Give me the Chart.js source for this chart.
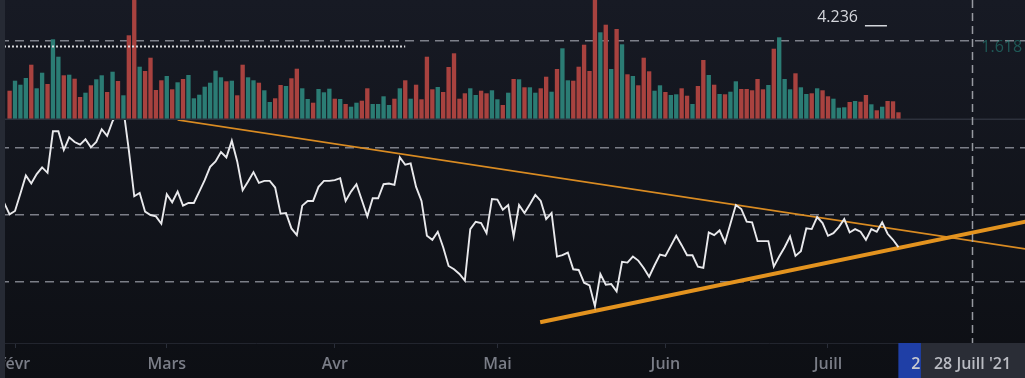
<!DOCTYPE html>
<html>
<head>
<meta charset="utf-8">
<script src="https://cdn.jsdelivr.net/npm/chart.js@4/dist/chart.umd.min.js"></script>
<style>
  html, body { margin: 0; padding: 0; background: #131722; overflow: hidden; }
  #chart { display: block; }
</style>
</head>
<body>
<canvas id="chart" width="1025" height="378"></canvas>
<script>
// days counted from 1 Feb 2021 (day 0)
const firstCloseDay = -2;
const closes = [
  41.8, 40.1, 40.6, 43.2, 45.9, 44.7, 46.1, 47.1, 46.3, 52.5,
  52.5, 49.7, 51.6, 50.9, 50.5, 51.3, 50.1, 50.9, 52.8, 51.8,
  54.0, 55.4, 55.8, 49.7, 42.8, 43.3, 40.5, 40.0, 39.8, 38.7,
  43.1, 41.9, 43.5, 41.4, 41.8, 41.8, 43.5, 45.2, 47.2, 48.0,
  49.4, 48.6, 51.1, 48.0, 43.7, 45.0, 46.4, 44.8, 45.1, 45.1,
  44.1, 40.2, 40.3, 38.0, 37.0, 41.4, 42.1, 42.1, 44.2, 45.1,
  45.1, 45.2, 45.5, 42.1, 43.5, 44.6, 42.2, 39.8, 42.5, 42.5,
  44.6, 44.7, 44.5, 48.6, 47.5, 47.7, 44.2, 42.1, 36.9, 36.3,
  37.5, 35.2, 32.4, 31.9, 31.2, 30.2, 37.9, 39.0, 38.8, 37.3,
  42.4, 42.3, 40.8, 41.5, 36.8, 41.5, 40.3, 41.6, 43.0, 42.1,
  39.4, 40.3, 33.8, 34.0, 34.4, 31.9, 31.8, 29.9, 29.5, 26.4,
  31.2, 29.6, 29.7, 28.6, 33.0, 32.9, 33.8, 33.2, 32.1, 30.8,
  32.5, 34.1, 33.9, 35.4, 36.9, 35.5, 34.0, 34.0, 32.3, 32.1,
  37.4, 37.0, 37.7, 35.9, 38.7, 41.5, 40.9, 39.0, 38.9, 36.1,
  36.1, 36.1, 32.3, 33.8, 35.2, 36.8, 33.9, 34.6, 38.0, 37.9,
  39.7, 38.8, 36.9, 37.3, 38.2, 39.4, 37.4, 37.9, 37.5, 36.3,
  37.9, 37.5, 38.9, 37.2, 36.3, 35.2
];

const firstVolumeDay = -1;
const volumes = [
  293, 393, 353, 420, 553, 317, 473, 360, 807, 633,
  447, 453, 413, 230, 273, 347, 407, 447, 280, 483,
  390, 247, 847, 1350, 533, 490, 623, 300, 397, 440,
  307, 377, 410, 450, 217, 253, 333, 373, 493, 427,
  387, 393, 247, 553, 427, 397, 373, 297, 180, 217,
  350, 340, 417, 513, 317, 210, 173, 310, 277, 313,
  213, 210, 160, 133, 173, 193, 317, 160, 160, 237,
  150, 213, 317, 397, 213, 353, 207, 633, 307, 330,
  280, 530, 667, 213, 267, 317, 250, 293, 267, 297,
  207, 150, 273, 410, 407, 327, 327, 273, 317, 433,
  283, 510, 717, 397, 393, 533, 753, 490, 1300, 877,
  953, 510, 910, 757, 457, 440, 347, 623, 487, 293,
  347, 280, 250, 257, 317, 243, 160, 340, 600, 450,
  353, 260, 257, 283, 387, 310, 310, 297, 410, 307,
  350, 713, 827, 410, 307, 467, 327, 260, 267, 317,
  297, 237, 213, 123, 127, 180, 190, 183, 250, 157,
  97, 133, 190, 187, 77
];
// u = up day (teal), d = down day (red)
const volumeDirs =
  "duuuduuduu" + "dudduduudu" + "dudduddddu" + "duduuuuuuu" + "dudduuduud" +
  "dudduuduuu" + "duduudduuu" + "udududdddu" + "ddddduuddu" + "udududuudd" +
  "uduudddddu" + "dudududddu" + "uduudduddu" + "duduuddddd" + "uduuuduudu" +
  "dduuududdu" + "duddd";

const monthDays = [0, 28, 59, 89, 120, 150];
const monthLabels = ["févr", "Mars", "Avr", "Mai", "Juin", "Juill"];

const resistanceDays = [30, 190];
const resistanceValues = [54.2, 34.5];
const supportDays = [96.9, 190];
const supportValues = [24.0, 39.6];

const priceGridValues = [30, 40, 50];
const volumeGridValues = [790];

const cursorDay = 176.6;
const cursorLabel = "28 Juill '21";
const hiddenLabelDay = 172.5;
const hiddenLabel = "23 Juill '21";
const fibLevelVolume = 745;
const fibLevelDays = [-2.77, 72];
const fibTop = { text: "4.236", day: 148, volume: 1030 };
const fibRight = { text: "1.618", day: 178.3, volume: 725 };

const gridColor = "rgba(170,173,182,0.7)";
const upColor = "#2b7c74";
const downColor = "#a8423f";

const pricePoints = closes.map((v, i) => ({ x: firstCloseDay + i, y: v }));
const volumePoints = volumes.map((v, i) => ({ x: firstVolumeDay + i, y: v }));
const volumeColors = volumes.map((v, i) => volumeDirs[i] === "u" ? upColor : downColor);
const toPoints = (days, values) => days.map((d, i) => ({ x: d, y: values[i] }));

const labelFont = "600 16px 'Open Sans'";

const overlay = {
  id: "overlay",
  beforeDraw(chart) {
    const { ctx, width, height } = chart;
    const g = ctx.createLinearGradient(0, 0, 0, height);
    g.addColorStop(0, "#171a24");
    g.addColorStop(1, "#0d0f14");
    ctx.save();
    ctx.fillStyle = g;
    ctx.fillRect(0, 0, width, height);
    ctx.restore();
  },
  afterDraw(chart) {
    const { ctx, width, height } = chart;
    const x = chart.scales.x;
    const yv = chart.scales.yVol;
    ctx.save();

    // pane separator
    ctx.fillStyle = "#2d313c";
    ctx.fillRect(0, yv.bottom - 1.5, width, 1.5);

    // dotted fib level
    const fy = Math.round(yv.getPixelForValue(fibLevelVolume)) + 0.5;
    ctx.strokeStyle = "rgba(235,236,240,0.9)";
    ctx.lineWidth = 2;
    ctx.setLineDash([2, 2]);
    ctx.beginPath();
    ctx.moveTo(x.getPixelForValue(fibLevelDays[0]), fy);
    ctx.lineTo(x.getPixelForValue(fibLevelDays[1]), fy);
    ctx.stroke();
    ctx.setLineDash([]);

    // fib labels
    ctx.font = "16px 'Open Sans'";
    ctx.textBaseline = "middle";
    ctx.textAlign = "left";
    ctx.fillStyle = "#d4d6dc";
    const tx = x.getPixelForValue(fibTop.day);
    const ty = yv.getPixelForValue(fibTop.volume);
    ctx.fillText(fibTop.text, tx, ty);
    const tw = ctx.measureText(fibTop.text).width;
    ctx.fillRect(tx + tw + 7, ty + 8, 22, 1.5);
    ctx.fillStyle = "rgba(38,140,130,0.55)";
    ctx.fillText(fibRight.text, x.getPixelForValue(fibRight.day), yv.getPixelForValue(fibRight.volume));

    // crosshair
    const cx = Math.round(x.getPixelForValue(cursorDay)) + 0.5;
    ctx.strokeStyle = "rgba(175,177,185,0.85)";
    ctx.lineWidth = 1.5;
    ctx.setLineDash([8, 5]);
    ctx.beginPath();
    ctx.moveTo(cx, 0);
    ctx.lineTo(cx, x.top + 8);
    ctx.stroke();
    ctx.setLineDash([]);

    // date labels on the time axis
    ctx.font = labelFont;
    ctx.textAlign = "center";
    const hx = x.getPixelForValue(hiddenLabelDay);
    const hw = ctx.measureText(hiddenLabel).width + 26;
    ctx.fillStyle = "#1f3fa6";
    ctx.fillRect(hx - hw / 2, x.top, hw, height - x.top);
    ctx.fillStyle = "#c8cad0";
    ctx.fillText(hiddenLabel, hx, x.top + 21);

    const cw = ctx.measureText(cursorLabel).width + 26;
    ctx.fillStyle = "#2a2d36";
    ctx.fillRect(cx - cw / 2, x.top, cw + 20, height - x.top);
    ctx.fillStyle = "#b9bbc2";
    ctx.fillText(cursorLabel, cx, x.top + 21);

    // left edge strip
    ctx.fillStyle = "#262a34";
    ctx.fillRect(0, 0, 5, height);
    ctx.restore();
  }
};

new Chart(document.getElementById("chart").getContext("2d"), {
  type: "line",
  data: {
    datasets: [
      {
        type: "line",
        data: pricePoints,
        yAxisID: "yPrice",
        borderColor: "#e9e9ec",
        borderWidth: 1.9,
        pointRadius: 0,
        tension: 0
      },
      {
        type: "line",
        data: toPoints(supportDays, supportValues),
        yAxisID: "yPrice",
        borderColor: "#e3931f",
        borderWidth: 4,
        pointRadius: 0
      },
      {
        type: "line",
        data: toPoints(resistanceDays, resistanceValues),
        yAxisID: "yPrice",
        borderColor: "#d98b22",
        borderWidth: 1.6,
        pointRadius: 0
      },
      {
        type: "bar",
        data: volumePoints,
        yAxisID: "yVol",
        backgroundColor: volumeColors,
        barPercentage: 0.8,
        categoryPercentage: 1
      }
    ]
  },
  options: {
    responsive: false,
    devicePixelRatio: 1,
    animation: false,
    events: [],
    layout: { padding: 0 },
    plugins: { legend: { display: false }, tooltip: { enabled: false } },
    scales: {
      x: {
        type: "linear",
        min: -2.77,
        max: 186.35,
        offset: false,
        afterBuildTicks: (s) => { s.ticks = monthDays.map((v) => ({ value: v })); },
        afterFit: (s) => { s.height = 35; s.paddingLeft = 0; s.paddingRight = 0; },
        ticks: {
          autoSkip: false,
          maxRotation: 0,
          padding: 7,
          color: "#7a7d87",
          font: { family: "Open Sans", size: 16, weight: "600" },
          callback: (v, i) => monthLabels[i]
        },
        grid: { offset: false, drawOnChartArea: false, drawTicks: true, tickLength: 5, color: "#2a2e39" },
        border: { color: "#22252e" }
      },
      yVol: {
        type: "linear",
        position: "right",
        stack: "panes",
        stackWeight: 120,
        min: 0,
        max: 1200,
        afterBuildTicks: (s) => { s.ticks = volumeGridValues.map((v) => ({ value: v })); },
        afterFit: (s) => { s.width = 0; },
        ticks: { display: false },
        grid: { color: gridColor, lineWidth: 1.5, drawTicks: false },
        border: { display: false, dash: [9, 6] }
      },
      yPrice: {
        type: "linear",
        position: "right",
        stack: "panes",
        stackWeight: 223,
        min: 20.9,
        max: 54.18,
        afterBuildTicks: (s) => { s.ticks = priceGridValues.map((v) => ({ value: v })); },
        afterFit: (s) => { s.width = 0; },
        ticks: { display: false },
        grid: { color: gridColor, lineWidth: 1.5, drawTicks: false },
        border: { display: false, dash: [9, 6] }
      }
    }
  },
  plugins: [overlay]
});
</script>
</body>
</html>
